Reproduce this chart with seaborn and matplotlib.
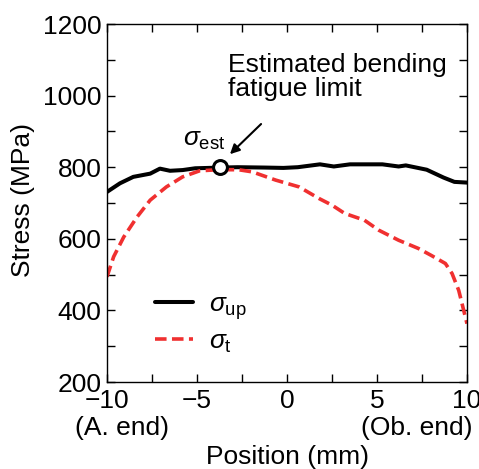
import numpy as np
import pandas as pd
import matplotlib
matplotlib.use("Agg")
import matplotlib.pyplot as plt
import seaborn as sns
from matplotlib.ticker import MultipleLocator

sns.set_style("ticks")
plt.rcParams['font.family'] = ['Liberation Sans', 'DejaVu Sans']
plt.rcParams['mathtext.fontset'] = 'custom'
plt.rcParams['mathtext.rm'] = 'Liberation Sans'
plt.rcParams['mathtext.it'] = 'Liberation Sans:italic'
for k in ['text.color', 'axes.labelcolor', 'xtick.color', 'ytick.color', 'axes.edgecolor']:
    plt.rcParams[k] = 'black'

up_x = [-10, -9.28, -8.54, -7.6, -7.06, -6.5, -5.8, -5.1, -3.6, -2.74, -1.26, -0.2, 0.6, 1.83, 2.6, 3.5, 5.3, 6.2, 6.6, 7.76, 8.7, 9.3, 10]
up_y = [731, 755, 773, 782, 796, 790, 792, 797, 799, 800, 799, 798, 800, 808, 802, 808, 808, 802, 805, 793, 771, 759, 757]

t_x = [-10, -9.63, -9.07, -8.33, -7.6, -6.7, -5.8, -4.85, -3.8, -2.7, -1.93, -0.63, 0.67, 1.8, 2.5, 3.2, 4.3, 5.1, 6.2, 7.3, 8.0, 8.8, 9.17, 9.54, 10]
t_y = [494, 550, 605, 661, 708, 745, 773, 790, 793, 793, 787, 764, 745, 712, 694, 671, 652, 624, 596, 573, 554, 531, 503, 456, 363]

est_x = [-3.7]
est_y = [800]

fs = 19
fig = plt.figure(figsize=(4.79, 4.69), dpi=100)
ax = fig.add_axes([107/479, 87/469, 360/479, 358/469])

df_up = pd.DataFrame({"x": up_x, "y": up_y})
df_t = pd.DataFrame({"x": t_x, "y": t_y})
sns.lineplot(data=df_up, x="x", y="y", ax=ax, color="black", lw=2.9, label=r"$\mathit{\sigma}_{\rm up}$", sort=False)
sns.lineplot(data=df_t, x="x", y="y", ax=ax, color="#f03030", lw=2.6, ls=(0, (3.2, 1.5)), label=r"$\mathit{\sigma}_{\rm t}$", sort=False)
ax.plot(est_x, est_y, marker="o", ms=10, mfc="white", mec="black", mew=2.2, ls="none", zorder=5)

ax.set_xlim(-10, 10)
ax.set_ylim(200, 1200)
ax.xaxis.set_major_locator(MultipleLocator(5))
ax.xaxis.set_minor_locator(MultipleLocator(2.5))
ax.yaxis.set_major_locator(MultipleLocator(200))
ax.yaxis.set_minor_locator(MultipleLocator(100))
ax.tick_params(which="both", direction="in", top=True, right=True, width=1.0, labelsize=fs)
ax.tick_params(axis="x", pad=5)
ax.tick_params(axis="y", pad=4)
ax.tick_params(which="major", length=6)
ax.tick_params(which="minor", length=6)
ax.set_xticks([-10, -5, 0, 5, 10])
ax.set_xticklabels(["\u221210", "\u22125", "0", "5", "10"])
for s in ax.spines.values():
    s.set_linewidth(1.0)

ax.set_xlabel("Position (mm)", fontsize=fs)
ax.xaxis.set_label_coords(0.5, -0.175)
ax.set_ylabel("Stress (MPa)", fontsize=fs)
ax.yaxis.set_label_coords(-0.2, 0.508)

ax.text(-11.78, 72, "(A. end)", fontsize=fs, ha="left", va="center", clip_on=False)
ax.text(10.33, 72, "(Ob. end)", fontsize=fs, ha="right", va="center", clip_on=False)

ax.annotate("", xy=(-3.28, 831), xytext=(-1.33, 926),
            arrowprops=dict(arrowstyle="-|>", color="black", lw=1.5, mutation_scale=14))
ax.text(-3.3, 1052, "Estimated bending\nfatigue limit", fontsize=fs, ha="left", va="center", linespacing=1.0)
ax.text(-4.6, 842, r"$\mathit{\sigma}_{\rm est}$", fontsize=fs, ha="center", va="bottom")

leg = ax.legend(loc="center left", bbox_to_anchor=(0.133, 0.163), frameon=False, fontsize=fs,
                handlelength=1.45, handletextpad=0.6, labelspacing=0.3, borderaxespad=0, borderpad=0)

fig.savefig("out.png", dpi=100)
